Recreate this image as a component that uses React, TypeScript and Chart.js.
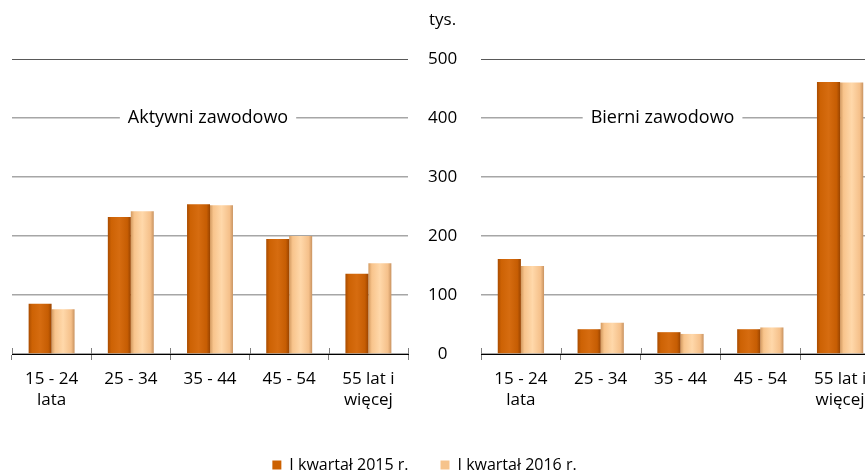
import React, { useEffect, useRef } from 'react';
import { Chart, registerables } from 'chart.js';

Chart.register(...registerables);

// ---- data ----
const categories: (string | string[])[] = [['15 - 24', 'lata'], '25 - 34', '35 - 44', '45 - 54', ['55 lat i', 'więcej']];
const seriesNames = ['I kwartał 2015 r.', 'I kwartał 2016 r.'];
const activeQ1_2015 = [85, 232, 254, 195, 136];
const activeQ1_2016 = [76, 242, 252, 200, 154];
const inactiveQ1_2015 = [161, 42, 37, 42, 461];
const inactiveQ1_2016 = [149, 53, 34, 45, 460];
const panelTitles = ['Aktywni zawodowo', 'Bierni zawodowo'];
const yTicks = [0, 100, 200, 300, 400, 500];
const unitLabel = 'tys.';

// ---- styles ----
const FONT = '"Open Sans", "Noto Sans", sans-serif';
const CAT_PCT = 0.58;
const XH = 71;
const CANVAS_H = 483;
const legendColors = ['#CC6000', '#F6C38C'];
const stops2015: [number, string][] = [[0, '#A94C00'], [0.15, '#CD6204'], [0.5, '#D66C10'], [0.85, '#C65D03'], [1, '#9A4400']];
const stops2016: [number, string][] = [[0, '#D39A60'], [0.15, '#F8C48C'], [0.5, '#FFD8AA'], [0.85, '#F5C08A'], [1, '#C99360']];

function barFill(stops: [number, string][], fallback: string) {
  return (c: any) => {
    const chart = c.chart;
    const xs = chart.scales && chart.scales.x;
    if (c.type !== 'data' || !xs || !chart.chartArea) return fallback;
    const n = chart.data.labels.length;
    const catW = (xs.right - xs.left) / n;
    const barW = (catW * CAT_PCT) / 2;
    const center = xs.getPixelForValue(c.dataIndex);
    const left = center - barW + c.datasetIndex * barW;
    if (!isFinite(left) || !isFinite(barW) || barW <= 0) return fallback;
    const g = chart.ctx.createLinearGradient(left, 0, left + barW, 0);
    stops.forEach(([o, col]) => g.addColorStop(o, col));
    return g;
  };
}

const panelTitlePlugin = {
  id: 'panelTitle',
  beforeDatasetsDraw(chart: any, _args: any, opts: any) {
    if (!opts || !opts.text) return;
    const { ctx, chartArea, scales } = chart;
    const y = scales.y.getPixelForValue(opts.value);
    const x = chartArea.left + (chartArea.right - chartArea.left) * opts.center;
    ctx.save();
    ctx.font = `18px ${FONT}`;
    const w = ctx.measureText(opts.text).width;
    ctx.fillStyle = '#ffffff';
    ctx.fillRect(x - w / 2 - 8, y - 11, w + 16, 22);
    ctx.fillStyle = '#000000';
    ctx.textAlign = 'center';
    ctx.textBaseline = 'middle';
    ctx.fillText(opts.text, x, y);
    ctx.restore();
  },
};

// tick marks crossing above the category axis (Excel "cross" tick marks)
const crossTickPlugin = {
  id: 'crossTicks',
  afterDatasetsDraw(chart: any) {
    const xs = chart.scales.x;
    const n = chart.data.labels.length;
    const step = (xs.right - xs.left) / n;
    const { ctx } = chart;
    ctx.save();
    ctx.strokeStyle = '#7f7f7f';
    ctx.lineWidth = 1;
    ctx.beginPath();
    for (let i = 0; i <= n; i++) {
      const px = Math.round(xs.left + i * step) + 0.5;
      ctx.moveTo(px, xs.top - 6);
      ctx.lineTo(px, xs.top);
    }
    ctx.stroke();
    ctx.restore();
  },
};

const unitPlugin = {
  id: 'unitLabel',
  afterDraw(chart: any, _args: any, opts: any) {
    if (!opts || !opts.text) return;
    const { ctx, scales } = chart;
    const ys = scales.y;
    let x = ys.left + 34;
    try {
      const items = ys.getLabelItems();
      if (items && items.length) x = items[items.length - 1].options.translation[0];
    } catch (e) {}
    ctx.save();
    ctx.font = `17px ${FONT}`;
    ctx.fillStyle = '#000';
    ctx.textAlign = 'center';
    ctx.textBaseline = 'middle';
    ctx.fillText(opts.text, x, ys.top - 39);
    ctx.restore();
  },
};

function makeDatasets(a: number[], b: number[]) {
  return [
    { label: seriesNames[0], data: a, backgroundColor: barFill(stops2015, legendColors[0]), borderWidth: 0, categoryPercentage: CAT_PCT, barPercentage: 1 },
    { label: seriesNames[1], data: b, backgroundColor: barFill(stops2016, legendColors[1]), borderWidth: 0, categoryPercentage: CAT_PCT, barPercentage: 1 },
  ];
}

const gridColor = (c: any) => (c.tick && c.tick.value === 500 ? '#595959' : '#a6a6a6');
const gridWidth = (c: any) => (c.tick && c.tick.value === 500 ? 1 : 1.5);

function xScale() {
  return {
    grid: { offset: true, drawOnChartArea: false, drawTicks: true, tickLength: 6, color: '#7f7f7f' },
    border: { display: true, color: '#000000', width: 1 },
    ticks: { font: { family: FONT, size: 17, lineHeight: 1.22 }, color: '#000000', padding: 9, maxRotation: 0, autoSkip: false },
    afterFit: (s: any) => { s.height = XH; },
  };
}

export default function App() {
  const leftRef = useRef<HTMLCanvasElement>(null);
  const rightRef = useRef<HTMLCanvasElement>(null);

  useEffect(() => {
    if (!leftRef.current || !rightRef.current) return;
    const left = new Chart(leftRef.current, {
      type: 'bar',
      data: { labels: categories as any, datasets: makeDatasets(activeQ1_2015, activeQ1_2016) as any },
      plugins: [panelTitlePlugin, unitPlugin, crossTickPlugin],
      options: {
        responsive: false,
        animation: false,
        layout: { padding: { left: 12, right: 28, top: 59, bottom: 0 } },
        scales: {
          x: xScale() as any,
          y: {
            position: 'right',
            min: 0,
            max: 500,
            afterBuildTicks: (s: any) => { s.ticks = yTicks.map((v) => ({ value: v })); },
            ticks: { padding: 20, crossAlign: 'center', font: { family: FONT, size: 17 }, color: '#000000' },
            grid: { drawTicks: false, color: gridColor, lineWidth: gridWidth },
            border: { display: false },
            afterFit: (s: any) => { s.width = 429; },
          } as any,
        },
        plugins: {
          legend: {
            display: true,
            position: 'bottom',
            labels: {
              boxWidth: 9,
              boxHeight: 9,
              padding: 32,
              color: '#000000',
              font: { family: FONT, size: 16 },
              generateLabels: (chart: any) => {
                const items = (Chart.defaults.plugins.legend.labels as any).generateLabels(chart);
                return items.map((it: any, i: number) => ({ ...it, fillStyle: legendColors[i], strokeStyle: legendColors[i], lineWidth: 0 }));
              },
            },
          },
          tooltip: { enabled: false },
          panelTitle: { text: panelTitles[0], value: 400, center: 0.495 },
          unitLabel: { text: unitLabel },
        } as any,
      },
    });

    const bottomPad = CANVAS_H - left.chartArea.bottom - XH;
    const right = new Chart(rightRef.current, {
      type: 'bar',
      data: { labels: categories as any, datasets: makeDatasets(inactiveQ1_2015, inactiveQ1_2016) as any },
      plugins: [panelTitlePlugin, crossTickPlugin],
      options: {
        responsive: false,
        animation: false,
        layout: { padding: { left: 11, right: 10, top: left.chartArea.top, bottom: bottomPad } },
        scales: {
          x: xScale() as any,
          y: {
            position: 'left',
            min: 0,
            max: 500,
            afterBuildTicks: (s: any) => { s.ticks = yTicks.map((v) => ({ value: v })); },
            ticks: { display: false },
            grid: { drawTicks: false, color: gridColor, lineWidth: gridWidth },
            border: { display: false },
            afterFit: (s: any) => { s.width = 0; },
          } as any,
        },
        plugins: {
          legend: { display: false },
          tooltip: { enabled: false },
          panelTitle: { text: panelTitles[1], value: 400, center: 0.455 },
        } as any,
      },
    });

    return () => {
      left.destroy();
      right.destroy();
    };
  }, []);

  return (
    <div style={{ position: 'fixed', left: 0, top: 0, width: 865, height: 475, overflow: 'hidden', background: '#ffffff' }}>
      <canvas ref={leftRef} width={865} height={CANVAS_H} style={{ position: 'absolute', left: 0, top: 0 }} />
      <canvas ref={rightRef} width={420} height={CANVAS_H} style={{ position: 'absolute', left: 470, top: 0 }} />
    </div>
  );
}
